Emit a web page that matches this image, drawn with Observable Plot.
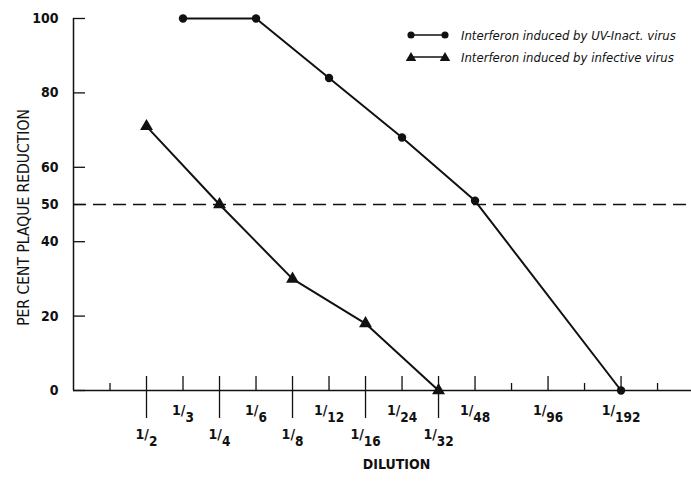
<!DOCTYPE html>
<html>
<head>
<meta charset="utf-8">
<script src="https://cdn.jsdelivr.net/npm/d3@7"></script>
<script src="https://cdn.jsdelivr.net/npm/@observablehq/plot@0.6"></script>
<style>
  html, body { margin: 0; padding: 0; background: #fff; }
  #wrap { position: relative; width: 691px; height: 483px; font-family: "DejaVu Sans Condensed", "Liberation Sans Narrow", sans-serif; }
  #legend { position: absolute; left: 405px; top: 24px; font-style: italic; font-size: 13px; color: #111; }
  #legend .row { display: flex; align-items: center; height: 22px; }
  #legend svg { margin-right: 10px; }
</style>
</head>
<body>
<div id="wrap">
  <div id="chart"></div>
  <div id="legend"></div>
</div>
<script>
// Axis slots (evenly spaced; blank slots are unlabelled minor ticks)
const slots = ["", "1/2", "1/3", "1/4", "1/6", "1/8", "1/12", "1/16", "1/24", "1/32", "1/48", "", "1/96", "", "1/192", ""];
const lowerRowLabels = ["1/2", "1/4", "1/8", "1/16", "1/32"];
const upperRowLabels = ["1/3", "1/6", "1/12", "1/24", "1/48", "1/96", "1/192"];
const yTicks = [0, 20, 40, 50, 60, 80, 100];

// Series
const uvDilutions = ["1/3", "1/6", "1/12", "1/24", "1/48", "1/192"];
const uvValues = [100, 100, 84, 68, 51, 0];
const infDilutions = ["1/2", "1/4", "1/8", "1/16", "1/32"];
const infValues = [71, 50, 30, 18, 0];

const seriesNames = ["Interferon induced by UV-Inact. virus", "Interferon induced by infective virus"];

const pos = (lab) => slots.indexOf(lab);
const uv = uvDilutions.map((d, i) => ({x: pos(d), y: uvValues[i]}));
const inf = infDilutions.map((d, i) => ({x: pos(d), y: infValues[i]}));

const slotIdx = slots.map((s, i) => i);
const minorTicks = slotIdx.filter(i => slots[i] === "");
const majorUpTicks = slotIdx.filter(i => upperRowLabels.includes(slots[i]));
const longTicks = slotIdx.filter(i => lowerRowLabels.includes(slots[i]));

const font = `"DejaVu Sans Condensed", "Liberation Sans Narrow", sans-serif`;

const chart = Plot.plot({
  width: 691,
  height: 483,
  marginLeft: 73,
  marginRight: 0,
  marginTop: 18,
  marginBottom: 93,
  style: {fontFamily: font, fontSize: "14px", color: "#111", background: "#fff"},
  x: {domain: [-1, 15.93], axis: null},
  y: {domain: [0, 100], axis: null},
  marks: [
    // axis lines
    Plot.ruleY([0], {stroke: "#111", strokeWidth: 1.5}),
    Plot.ruleX([-1], {y1: 0, y2: 100, stroke: "#111", strokeWidth: 1.5}),
    // y ticks pointing inward
    Plot.ruleY(yTicks, {x1: -1, x2: -1, insetRight: -12, stroke: "#111", strokeWidth: 1.3}),
    Plot.text(yTicks, {x: -1, y: d => d, dx: -15, textAnchor: "end", fontSize: 14, fontWeight: "bold", fill: "#111"}),
    // x ticks
    Plot.ruleX(minorTicks, {x: d => d, y1: 0, y2: 0, insetTop: -7, stroke: "#111", strokeWidth: 1.3}),
    Plot.ruleX(majorUpTicks, {x: d => d, y1: 0, y2: 0, insetTop: -14, stroke: "#111", strokeWidth: 1.3}),
    Plot.ruleX(longTicks, {x: d => d, y1: 0, y2: 0, insetTop: -14, insetBottom: -28, stroke: "#111", strokeWidth: 1.3}),
    // x tick labels (two rows)
    Plot.text(upperRowLabels, {x: d => pos(d), y: 0, text: d => d, dy: 20, fontSize: 14, fontWeight: "bold", fill: "#111"}),
    Plot.text(lowerRowLabels, {x: d => pos(d), y: 0, text: d => d, dy: 44, fontSize: 14, fontWeight: "bold", fill: "#111"}),
    // axis titles
    Plot.text(["DILUTION"], {frameAnchor: "bottom", dx: 14, dy: 78, fontSize: 14, fontWeight: "bold", fill: "#111"}),
    Plot.text(["PER CENT PLAQUE REDUCTION"], {frameAnchor: "left", textAnchor: "middle", rotate: -90, dx: -49, dy: 13, fontSize: 15.5, fill: "#111"}),
    // 50% reference line
    Plot.ruleY([50], {stroke: "#111", strokeWidth: 1.4, strokeDasharray: "13,7"}),
    // series
    Plot.line(uv, {x: "x", y: "y", stroke: "#111", strokeWidth: 2}),
    Plot.dot(uv, {x: "x", y: "y", r: 4.2, fill: "#111", stroke: "none"}),
    Plot.line(inf, {x: "x", y: "y", stroke: "#111", strokeWidth: 2}),
    Plot.dot(inf, {x: "x", y: "y", symbol: "triangle", r: 4.8, fill: "#111", stroke: "none"})
  ]
});

// render fractions as "1/" with a lowered denominator
d3.select(chart).selectAll("text").each(function() {
  const t = this.textContent;
  if (/^1\/\d+$/.test(t)) {
    const den = t.split("/")[1];
    d3.select(this).text("1/").append("tspan").attr("dy", "0.55em").attr("font-size", "13.5").text(den);
  }
});

document.getElementById("chart").appendChild(chart);

// legend
const legend = d3.select("#legend");
const symbols = ["circle", "triangle"];
seriesNames.forEach((name, i) => {
  const row = legend.append("div").attr("class", "row");
  const svg = row.append("svg").attr("width", 46).attr("height", 14);
  svg.append("line").attr("x1", 6).attr("x2", 40).attr("y1", 7).attr("y2", 7).attr("stroke", "#111").attr("stroke-width", 1.6);
  const sym = d3.symbol().type(symbols[i] === "circle" ? d3.symbolCircle : d3.symbolTriangle).size(symbols[i] === "circle" ? 40 : 48);
  [6, 40].forEach(cx => {
    svg.append("path").attr("d", sym()).attr("transform", `translate(${cx},${symbols[i] === "circle" ? 7 : 8})`).attr("fill", "#111");
  });
  row.append("span").text(name);
});
</script>
</body>
</html>
